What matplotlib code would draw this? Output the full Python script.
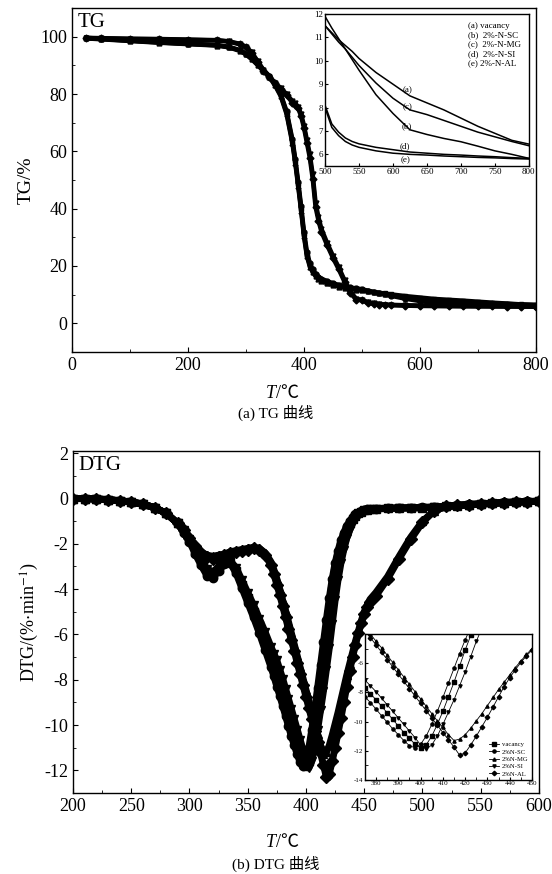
import numpy as np
import matplotlib
matplotlib.use('Agg')
import matplotlib.pyplot as plt
from matplotlib.ticker import MultipleLocator

plt.rcParams['font.family'] = ['Liberation Serif', 'Noto Sans CJK SC']
plt.rcParams['mathtext.fontset'] = 'stix'
plt.rcParams['axes.unicode_minus'] = False

# ---------------- TG data ----------------
T_tg = [25, 50, 100, 150, 200, 250, 270, 290, 300, 310, 320, 330, 340, 350, 360,
        370, 380, 385, 390, 395, 400, 405, 410, 415, 420, 425, 430, 440, 450, 460,
        470, 480, 490, 500, 510, 520, 530, 540, 550, 575, 600, 625, 650, 675, 700,
        725, 750, 775, 800]
tg_a = [99.5, 99.2, 98.6, 98.0, 97.5, 97.0, 96.4, 95.2, 94.0, 92.3, 90.3, 88.2, 86.2, 83.3, 79.6,
        73.5, 63.5, 56.5, 48.5, 40.0, 31.0, 24.0, 20.3, 18.2, 16.8, 15.8, 15.1, 14.2, 13.6, 13.1,
        12.6, 12.2, 11.85, 11.5, 11.2, 10.9, 10.65, 10.4, 10.1, 9.5, 9.0, 8.5, 8.2, 7.9, 7.55,
        7.2, 6.9, 6.6, 6.44]
tg_b = [99.6, 99.3, 98.7, 98.1, 97.6, 97.1, 96.5, 95.3, 94.1, 92.4, 90.5, 88.4, 86.4, 83.6, 79.9,
        74.0, 64.2, 57.3, 49.4, 41.0, 32.0, 25.0, 21.0, 18.8, 17.3, 16.3, 15.6, 14.7, 14.0, 13.4,
        12.9, 12.5, 12.2, 11.9, 11.4, 10.95, 10.5, 10.05, 9.6, 8.55, 7.75, 7.05, 6.85, 6.68, 6.54,
        6.35, 6.15, 6.0, 5.83]
tg_c = [99.4, 99.1, 98.5, 97.9, 97.4, 96.9, 96.3, 95.0, 93.8, 92.1, 90.1, 88.0, 86.0, 83.0, 79.2,
        73.0, 62.8, 55.8, 47.8, 39.3, 30.3, 23.4, 19.8, 17.8, 16.4, 15.5, 14.8, 13.9, 13.3, 12.8,
        12.4, 12.0, 11.75, 11.5, 11.15, 10.8, 10.5, 10.15, 9.8, 9.05, 8.4, 7.9, 7.7, 7.45, 7.2,
        6.95, 6.75, 6.55, 6.37]
tg_d = [99.6, 99.5, 99.3, 99.2, 99.0, 98.8, 98.4, 97.5, 96.5, 94.5, 91.5, 88.5, 86.0, 84.0, 82.0,
        80.0, 77.5, 76.7, 75.5, 73.0, 69.0, 64.0, 59.0, 52.0, 42.0, 37.0, 33.0, 28.0, 23.5, 19.5,
        15.0, 11.0, 8.6, 8.1, 7.3, 6.95, 6.7, 6.55, 6.45, 6.3, 6.2, 6.1, 6.05, 6.0, 5.97,
        5.93, 5.9, 5.86, 5.83]
tg_e = [99.5, 99.4, 99.2, 99.1, 98.9, 98.7, 98.3, 97.3, 96.3, 94.2, 91.2, 88.2, 85.8, 83.7, 81.6,
        79.5, 77.0, 76.2, 75.0, 72.3, 68.2, 63.0, 57.8, 50.5, 40.5, 35.8, 32.0, 27.2, 22.8, 18.8,
        14.4, 10.5, 8.3, 8.0, 7.15, 6.8, 6.55, 6.4, 6.3, 6.15, 6.05, 6.0, 5.97, 5.93, 5.9,
        5.87, 5.85, 5.82, 5.8]
tg_series = [tg_a, tg_b, tg_c, tg_d, tg_e]
tg_names = ['(a) vacancy', '(b)  2%-N-SC', '(c)  2%-N-MG', '(d)  2%-N-SI', '(e) 2%-N-AL']

# ---------------- DTG data ----------------
T_dtg = np.concatenate([np.arange(200, 291, 10), np.arange(295, 366, 5),
                        np.arange(370, 455.1, 2.5), np.arange(460, 601, 10)])
early = [0.0, 0.0, -0.02, -0.05, -0.1, -0.15, -0.25, -0.4, -0.65, -1.1]
dtg_vac = early + [
    -1.45, -1.85, -2.35, -2.85, -3.25, -3.35, -3.1, -2.85, -2.8, -3.2, -3.8, -4.4, -5.0, -5.6, -6.3,
    -7.0, -7.35, -7.7, -8.1, -8.5, -8.95, -9.4, -9.85, -10.3, -10.75, -11.15, -11.55, -11.8, -11.6,
    -11.0, -10.2, -9.3, -8.3, -7.3, -6.2, -5.1, -4.1, -3.3, -2.65, -2.1, -1.7, -1.35, -1.1, -0.9,
    -0.75, -0.65, -0.58, -0.52, -0.49, -0.47,
    -0.45, -0.43, -0.42, -0.41, -0.4, -0.38, -0.35, -0.31, -0.27, -0.24, -0.21, -0.18, -0.16, -0.14, -0.12]
dtg_sc = early + [
    -1.5, -1.9, -2.45, -2.95, -3.4, -3.5, -3.2, -2.9, -2.85, -3.3, -3.95, -4.6, -5.25, -5.95, -6.7,
    -7.45, -7.85, -8.3, -8.7, -9.15, -9.6, -10.05, -10.5, -10.9, -11.3, -11.65, -11.8, -11.55, -11.0,
    -10.2, -9.3, -8.35, -7.35, -6.35, -5.35, -4.4, -3.55, -2.85, -2.3, -1.85, -1.5, -1.2, -1.0, -0.83,
    -0.7, -0.62, -0.56, -0.51, -0.48, -0.46,
    -0.44, -0.42, -0.41, -0.4, -0.39, -0.37, -0.34, -0.3, -0.26, -0.23, -0.2, -0.17, -0.15, -0.13, -0.11]
dtg_mg = early + [
    -1.35, -1.7, -2.05, -2.35, -2.5, -2.55, -2.5, -2.45, -2.35, -2.3, -2.25, -2.2, -2.15, -2.2, -2.4,
    -2.8, -3.15, -3.55, -4.0, -4.5, -4.95, -5.45, -5.95, -6.45, -6.95, -7.45, -7.95, -8.45, -8.95,
    -9.45, -9.95, -10.4, -10.9, -11.3, -11.2, -10.9, -10.45, -9.95, -9.45, -8.9, -8.35, -7.8, -7.3,
    -6.8, -6.3, -5.85, -5.4, -5.0, -4.7, -4.45,
    -4.15, -3.45, -2.55, -1.7, -1.0, -0.55, -0.35, -0.3, -0.27, -0.24, -0.21, -0.18, -0.16, -0.14, -0.12]
dtg_si = early + [
    -1.4, -1.8, -2.25, -2.7, -3.1, -3.25, -3.0, -2.8, -2.75, -3.05, -3.6, -4.15, -4.7, -5.3, -5.9,
    -6.55, -6.85, -7.15, -7.55, -7.95, -8.4, -8.85, -9.3, -9.75, -10.2, -10.65, -11.1, -11.6, -11.9,
    -11.6, -11.0, -10.2, -9.35, -8.5, -7.55, -6.6, -5.55, -4.5, -3.6, -2.85, -2.25, -1.75, -1.4, -1.1,
    -0.9, -0.75, -0.64, -0.57, -0.52, -0.49,
    -0.46, -0.44, -0.43, -0.42, -0.41, -0.39, -0.36, -0.32, -0.28, -0.25, -0.22, -0.19, -0.16, -0.14, -0.12]
dtg_al = early + [
    -1.4, -1.75, -2.1, -2.4, -2.6, -2.65, -2.6, -2.5, -2.4, -2.35, -2.3, -2.25, -2.2, -2.25, -2.5,
    -2.95, -3.35, -3.8, -4.25, -4.75, -5.25, -5.75, -6.25, -6.75, -7.25, -7.75, -8.25, -8.75, -9.25,
    -9.75, -10.25, -10.75, -11.25, -11.75, -12.3, -12.15, -11.6, -11.0, -10.35, -9.7, -9.0, -8.3, -7.6,
    -7.0, -6.45, -5.95, -5.5, -5.1, -4.8, -4.55,
    -4.3, -3.55, -2.65, -1.8, -1.05, -0.55, -0.35, -0.3, -0.27, -0.24, -0.21, -0.18, -0.16, -0.14, -0.12]
dtg_series = [dtg_vac, dtg_sc, dtg_mg, dtg_si, dtg_al]
dtg_names = ['vacancy', '2%N-SC', '2%N-MG', '2%N-SI', '2%N-AL']
dtg_markers = ['s', 'o', '^', 'v', 'D']


def style(ax, size):
    ax.tick_params(direction='in', which='both', top=False, right=False, labelsize=size)
    for s in ax.spines.values():
        s.set_linewidth(1.0)


def t_label(y):
    fig.text(0.5, y, 'T', ha='right', va='center', fontsize=13, style='italic',
             family=['Liberation Serif'])
    fig.text(0.5, y, '/℃', ha='left', va='center', fontsize=13,
             family=['Liberation Serif', 'Noto Sans CJK SC'])


fig = plt.figure(figsize=(5.52, 8.74), dpi=100)

# ---- TG main ----
ax1 = fig.add_axes([0.1304, 0.5973, 0.8406, 0.3935])
for y, m in zip(tg_series, dtg_markers):
    ax1.plot(T_tg, y, color='black', lw=3.2, marker=m, ms=3.5)
ax1.set_xlim(0, 800)
ax1.set_ylim(-10, 110)
ax1.xaxis.set_major_locator(MultipleLocator(200))
ax1.xaxis.set_minor_locator(MultipleLocator(100))
ax1.yaxis.set_major_locator(MultipleLocator(20))
ax1.yaxis.set_minor_locator(MultipleLocator(10))
style(ax1, 13)
ax1.set_ylabel('TG/%', fontsize=14, labelpad=4)
ax1.text(0.012, 0.985, 'TG', transform=ax1.transAxes, fontsize=15, va='top', ha='left')

# ---- TG inset ----
ins1 = fig.add_axes([0.5888, 0.810, 0.3692, 0.174])
for y in tg_series:
    ins1.plot(T_tg, y, color='black', lw=1.1)
ins1.set_xlim(500, 800)
ins1.set_ylim(5.5, 12)
ins1.xaxis.set_major_locator(MultipleLocator(50))
ins1.yaxis.set_major_locator(MultipleLocator(1))
style(ins1, 6.5)
ins1.tick_params(length=2, pad=1.5)
for lab, tx, ty in zip(['(a)', '(c)', '(b)', '(d)', '(e)'],
                       [621, 621, 620, 618, 618], [8.75, 8.0, 7.2, 6.37, 5.77]):
    ins1.text(tx, ty, lab, fontsize=6.5, ha='center', va='center')
ins1.text(0.70, 0.95, '\n'.join(tg_names), transform=ins1.transAxes, fontsize=6.5,
          va='top', ha='left', linespacing=1.25)

t_label(0.550)
fig.text(0.5, 0.528, '(a) TG 曲线', ha='center', va='center', fontsize=11)

# ---- DTG main ----
ax2 = fig.add_axes([0.1322, 0.0927, 0.8442, 0.3913])
for y, m in zip(dtg_series, dtg_markers):
    ax2.plot(T_dtg, y, color='black', lw=5, marker=m, ms=6)
ax2.set_xlim(200, 600)
ax2.set_ylim(-13, 2.1)
ax2.xaxis.set_major_locator(MultipleLocator(50))
ax2.xaxis.set_minor_locator(MultipleLocator(25))
ax2.yaxis.set_major_locator(MultipleLocator(2))
ax2.yaxis.set_minor_locator(MultipleLocator(1))
style(ax2, 13)
ax2.set_ylabel('DTG/(%$\\cdot$min$^{-1}$)', fontsize=13, labelpad=2)
ax2.text(0.012, 0.985, 'DTG', transform=ax2.transAxes, fontsize=15, va='top', ha='left')

# ---- DTG inset ----
ins2 = fig.add_axes([0.661, 0.1076, 0.3028, 0.167])
for y, m, n in zip(dtg_series, dtg_markers, dtg_names):
    ins2.plot(T_dtg, y, color='black', lw=0.6, marker=m, ms=2.3, label=n)
ins2.set_xlim(375, 450)
ins2.set_ylim(-14, -4)
ins2.xaxis.set_major_locator(MultipleLocator(10))
ins2.xaxis.set_minor_locator(MultipleLocator(5))
ins2.yaxis.set_major_locator(MultipleLocator(2))
ins2.yaxis.set_minor_locator(MultipleLocator(1))
style(ins2, 5)
ins2.tick_params(length=2, pad=1)
ins2.legend(loc='lower right', fontsize=4.8, frameon=False, handlelength=1.6,
            labelspacing=0.25, borderaxespad=0.1, handletextpad=0.4)

t_label(0.036)
fig.text(0.5, 0.012, '(b) DTG 曲线', ha='center', va='center', fontsize=11)

fig.savefig('out.png', dpi=100)
